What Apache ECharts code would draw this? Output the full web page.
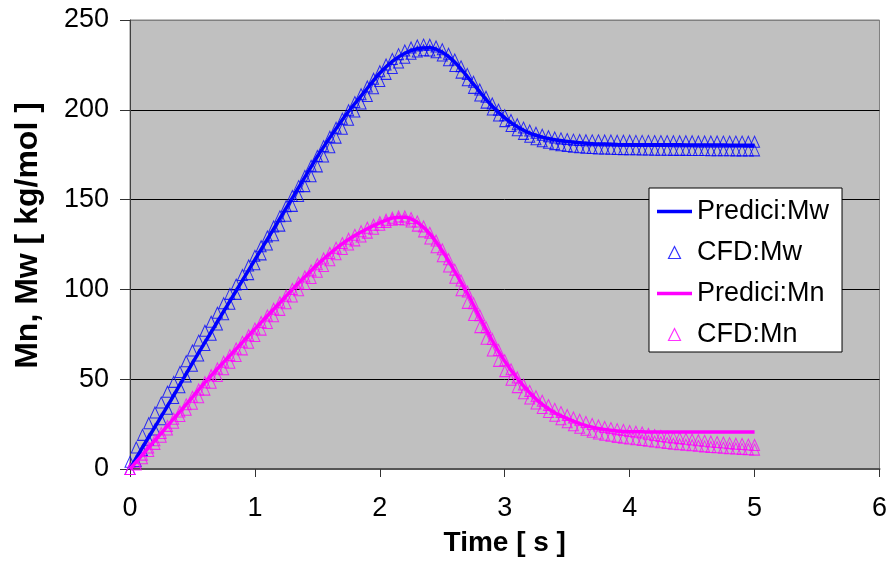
<!DOCTYPE html>
<html><head><meta charset="utf-8">
<script src="https://cdn.jsdelivr.net/npm/echarts@6/dist/echarts.min.js"></script>
<style>html,body{margin:0;padding:0;background:#fff}#c{width:890px;height:562px}</style>
</head><body><div id="c"></div>
<script>
// ---- data ----
const tLine = [0,0.1,0.2,0.3,0.4,0.5,0.6,0.7,0.8,0.9,1.0,1.1,1.2,1.3,1.4,1.5,1.6,1.7,1.8,1.9,2.0,2.1,2.2,2.3,2.4,2.5,2.6,2.7,2.8,2.9,3.0,3.1,3.2,3.3,3.4,3.5,3.6,3.7,3.8,3.9,4.0,4.1,4.2,4.3,4.4,4.5,4.6,4.7,4.8,4.9,5.0];
const predMw = [0,12,23.5,35,47,59,70.5,82,93.5,105,
  116.5,128,139.5,151,162.5,174,184.5,194.5,203.5,212,
  220.5,227,231.5,234,234.5,232,226.5,218.5,210,202,
  195.5,190.5,187,184.8,183.3,182.3,181.6,181.1,180.9,180.7,
  180.6,180.6,180.5,180.5,180.5,180.4,180.4,180.4,180.3,180.3,180.3];
const predMn = [0,8,16,24,32,40,48.2,55.8,63.2,70.6,
  78,85.3,92.6,100,107,113.8,120,125.5,130,133.8,
  137,139.8,140.2,137.3,131,121.5,110,98,84.5,71.5,
  60,50.5,42.5,36,31.3,28,25.3,23.3,22,21.2,
  20.8,20.7,20.6,20.6,20.6,20.6,20.6,20.6,20.6,20.6,20.6];
const tCfd = [0,0.05,0.1,0.15,0.2,0.25,0.3,0.35,0.4,0.45,0.5,0.55,0.6,0.65,0.7,0.75,0.8,0.85,0.9,0.95,
  1.0,1.05,1.1,1.15,1.2,1.25,1.3,1.35,1.4,1.45,1.5,1.55,1.6,1.65,1.7,1.75,1.8,1.85,1.9,1.95,
  2.0,2.05,2.1,2.15,2.2,2.25,2.3,2.35,2.4,2.45,2.5,2.55,2.6,2.65,2.7,2.75,2.8,2.85,2.9,2.95,
  3.0,3.05,3.1,3.15,3.2,3.25,3.3,3.35,3.4,3.45,3.5,3.55,3.6,3.65,3.7,3.75,3.8,3.85,3.9,3.95,
  4.0,4.05,4.1,4.15,4.2,4.25,4.3,4.35,4.4,4.45,4.5,4.55,4.6,4.65,4.7,4.75,4.8,4.85,4.9,4.95,5.0];
const cfdMwA = [4,12,19,25.5,31.5,37,43,48.5,54,60,
  66,71.5,77,82,87,92.3,97.5,102.7,108,113.3,
  118.7,124,129.5,135,140.7,146.3,152,157.5,163.2,168.8,
  174.3,179.8,185,190,195,199.8,204.3,208.7,213,217.3,
  221.5,225.2,228.3,231,233,234.7,235.8,236.3,236.2,235.3,
  233.7,231.2,228,224.2,220,215.6,211.3,207.3,203.5,200.1,
  197,194.3,192,190.1,188.5,187.2,186.1,185.3,184.6,184.1,
  183.7,183.4,183.2,183.1,183,183,182.9,182.9,182.8,182.8,
  182.8,182.7,182.7,182.7,182.6,182.6,182.6,182.5,182.5,182.5,
  182.5,182.4,182.4,182.4,182.4,182.3,182.3,182.3,182.3,182.2,182.2];
const cfdMwB = [0,4.5,10.5,16.3,22,27.7,33.5,39.5,45.5,51.5,
  57.5,63.2,69,74.7,80.5,86.2,92,97.5,103,108.5,
  114,119.5,125,130.2,135.5,141,146.5,152,157.5,163,
  168.5,174,179.2,184.5,189.5,194.5,199,203.5,207.7,212,
  216,220,223.3,226.3,229,231.2,232.5,233.2,233,232,
  230.2,227.6,224.4,220.7,216.4,212.2,208,204,200.2,196.8,
  193.7,191,188.6,186.6,185,183.6,182.5,181.6,180.9,180.3,
  179.8,179.4,179.1,178.9,178.7,178.5,178.4,178.3,178.2,178.1,
  178,178,177.9,177.9,177.8,177.8,177.8,177.7,177.7,177.7,
  177.6,177.6,177.6,177.5,177.5,177.5,177.5,177.4,177.4,177.4,177.4];
const cfdMnA = [0,4,8,12,16,20,24,28,32,36,
  40.2,44.3,48.3,52.2,56,59.7,63.4,67.1,70.8,74.5,
  78.2,81.9,85.5,89.2,92.8,96.5,100.2,103.7,107.2,110.6,
  114,117.2,120.3,123.2,125.8,128.2,130.4,132.4,134.3,136,
  137.5,138.8,139.9,140.6,140.6,139.7,137.8,135,131.5,127.2,
  122.3,116.8,111,105,98.8,92.3,85.6,79,72.4,66.3,
  60.6,55.5,51,47,43.5,40.5,38,35.6,33.5,31.7,
  30.1,28.7,27.4,26.2,25.1,24.2,23.4,22.8,22.2,21.7,
  21.2,20.8,20.3,19.6,18.9,18.4,18,17.6,17.2,16.8,
  16.4,16,15.7,15.3,15,14.7,14.4,14.1,13.9,13.6,13.4];
const cfdMnB = [0,2.5,6,10,14,18,22,25.8,29.5,33,
  36.3,40,44.2,48,51.8,55.5,59.2,62.9,66.6,70.3,
  74,77.6,81.3,85,88.6,92.3,96,99.5,103,106.4,
  109.8,113,116.2,119.6,122.5,125,127.3,129.5,131.6,133.8,
  136,137.6,138.8,139.2,138.9,137.8,135.5,132.3,128.3,123.5,
  118.5,112.8,106.5,99.5,92.5,85.8,79,72.5,66,60.2,
  54.5,49.7,45.6,42.2,39.2,36.5,34,31.7,29.6,27.7,
  26,24.4,23,21.8,20.7,19.8,19.1,18.5,17.9,17.4,
  17,16.6,16.2,15.7,15.3,14.9,14.5,14.1,13.8,13.5,
  13.2,12.9,12.6,12.3,12.1,11.8,11.6,11.4,11.2,11,10.8];
const xTicks = [0,1,2,3,4,5,6];
const yTicks = [0,50,100,150,200,250];
// ---------------------------------------------

const FONT = '"Liberation Sans", Arial, sans-serif';
const pair = (ts, vs) => vs.map((v, i) => [ts[i], v]);
const BLUE = '#0000ff', PINK = '#ff00ff';
const LINE_ICON = 'path://M0,0H35V3.5H0Z';
const TRI_ICON = 'path://M6,0.5L11.5,11.5L0.5,11.5Z';

const chart = echarts.init(document.getElementById('c'), null, {renderer: 'canvas'});
chart.setOption({
  animation: false,
  backgroundColor: '#ffffff',
  textStyle: {fontFamily: FONT},
  grid: {left: 130, top: 20, width: 753, height: 450, show: true,
         backgroundColor: '#c0c0c0', borderColor: '#808080', borderWidth: 1},
  xAxis: {
    type: 'value', min: xTicks[0], max: xTicks[xTicks.length - 1], interval: 1,
    name: 'Time [ s ]', nameLocation: 'middle', nameGap: 60,
    nameTextStyle: {fontSize: 28, fontWeight: 'bold', color: '#000', fontFamily: FONT},
    axisLine: {show: true, onZero: false, lineStyle: {color: '#555', width: 2}},
    axisTick: {show: true, length: 8, lineStyle: {color: '#333'}},
    axisLabel: {fontSize: 27, color: '#000', margin: 26, fontFamily: FONT},
    splitLine: {show: false}
  },
  yAxis: {
    type: 'value', min: yTicks[0], max: yTicks[yTicks.length - 1], interval: 50,
    name: 'Mn, Mw [ kg/mol ]', nameLocation: 'middle', nameGap: 86,
    nameTextStyle: {fontSize: 32, fontWeight: 'bold', color: '#000', fontFamily: FONT,
                    padding: [0, 0, 0, 18]},
    axisLine: {show: true, lineStyle: {color: '#404040', width: 1}},
    axisTick: {show: true, length: 10, lineStyle: {color: '#333'}},
    axisLabel: {fontSize: 27, color: '#000', margin: 21, fontFamily: FONT},
    splitLine: {show: true, lineStyle: {color: ['#808080', '#000', '#000', '#000', '#000', '#808080'], width: 1}}
  },
  legend: {
    orient: 'vertical', left: 649, top: 188,
    backgroundColor: '#ffffff', borderColor: '#000', borderWidth: 1,
    padding: [10, 13, 4, 8], itemWidth: 35, itemHeight: 12, itemGap: 14,
    symbolKeepAspect: true,
    textStyle: {fontSize: 27, color: '#000', fontFamily: FONT},
    selectedMode: false,
    data: [
      {name: 'Predici:Mw', icon: LINE_ICON, itemStyle: {color: BLUE}},
      {name: 'CFD:Mw', icon: TRI_ICON, itemStyle: {color: 'rgba(0,0,0,0)', borderColor: BLUE, borderWidth: 1.2}},
      {name: 'Predici:Mn', icon: LINE_ICON, itemStyle: {color: PINK}},
      {name: 'CFD:Mn', icon: TRI_ICON, itemStyle: {color: 'rgba(0,0,0,0)', borderColor: PINK, borderWidth: 1.2}}
    ]
  },
  series: [
    {name: 'CFD:Mw', type: 'scatter', symbol: 'triangle', symbolSize: [10, 11],
     data: pair(tCfd, cfdMwA).concat(pair(tCfd, cfdMwB)),
     itemStyle: {color: 'rgba(0,0,0,0)', borderColor: BLUE, borderWidth: 1},
     z: 2, silent: true},
    {name: 'CFD:Mn', type: 'scatter', symbol: 'triangle', symbolSize: [10, 11],
     data: pair(tCfd, cfdMnA).concat(pair(tCfd, cfdMnB)),
     itemStyle: {color: 'rgba(0,0,0,0)', borderColor: PINK, borderWidth: 1},
     z: 2, silent: true},
    {name: 'Predici:Mw', type: 'line', symbol: 'none', smooth: 0.3,
     data: pair(tLine, predMw),
     lineStyle: {color: BLUE, width: 3.5}, itemStyle: {color: BLUE}, z: 3, silent: true},
    {name: 'Predici:Mn', type: 'line', symbol: 'none', smooth: 0.3,
     data: pair(tLine, predMn),
     lineStyle: {color: PINK, width: 3.5}, itemStyle: {color: PINK}, z: 3, silent: true}
  ]
});
</script>
</body></html>
